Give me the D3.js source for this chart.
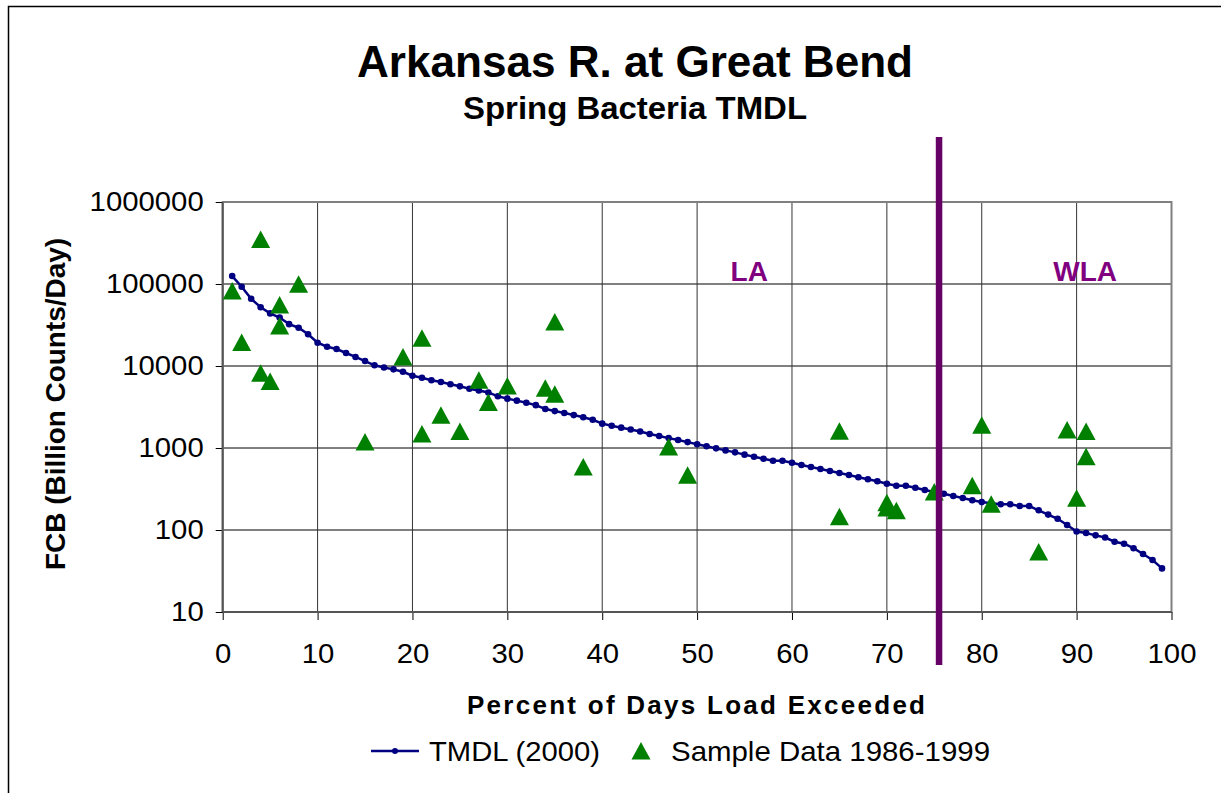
<!DOCTYPE html>
<html>
<head>
<meta charset="utf-8">
<script src="https://cdn.jsdelivr.net/npm/d3@7.9.0/dist/d3.min.js"></script>
<style>
  body { margin: 0; background: #fff; }
  svg { display: block; font-family: "Liberation Sans", Arial, sans-serif; }
</style>
</head>
<body>
<div id="chart"></div>
<script>
// TMDL curve: percent of days load exceeded vs load (billion counts/day)
const percentExceeded = [
  1, 2, 3, 4, 5, 6, 7, 8, 9, 10, 11, 12, 13, 14, 15, 16, 17, 18, 19, 20,
  21, 22, 23, 24, 25, 26, 27, 28, 29, 30, 31, 32, 33, 34, 35, 36, 37, 38, 39, 40,
  41, 42, 43, 44, 45, 46, 47, 48, 49, 50, 51, 52, 53, 54, 55, 56, 57, 58, 59, 60,
  61, 62, 63, 64, 65, 66, 67, 68, 69, 70, 71, 72, 73, 74, 75, 76, 77, 78, 79, 80,
  81, 82, 83, 84, 85, 86, 87, 88, 89, 90, 91, 92, 93, 94, 95, 96, 97, 98, 99
];
const tmdlLoad = [
  125000, 92700, 66000, 52000, 43800, 39000, 32400, 29300, 24400, 19200,
  17200, 16100, 14400, 12900, 11500, 10200, 9600, 9100, 8500, 7600,
  7200, 6700, 6380, 6000, 5650, 5270, 5030, 4760, 4270, 4000,
  3780, 3560, 3330, 2990, 2820, 2670, 2520, 2370, 2210, 1980,
  1870, 1770, 1680, 1590, 1480, 1400, 1320, 1250, 1180, 1110,
  1050, 990, 935, 885, 830, 783, 740, 700, 700, 662,
  620, 587, 555, 525, 496, 468, 440, 416, 393, 367,
  347, 347, 328, 307, 290, 277, 260, 246, 231, 219,
  212, 206, 206, 196, 196, 174, 154, 137, 115, 96,
  92, 86, 81, 72, 68, 60, 51, 43, 34
];

// sample data 1986-1999
const samplePercent = [
  1, 2, 4, 4, 5, 6, 6, 8, 15, 19, 21, 21, 23, 25, 27, 28, 30, 34, 35,
  35, 38, 47, 49, 65, 65, 70, 70, 71, 75, 79, 80, 81, 86, 89, 90, 91, 91
];
const sampleLoad = [
  82000, 19400, 350000, 8150, 6450, 55500, 30800, 99000, 1180, 12900, 21800, 1480, 2500, 1590, 6680, 3600, 5700, 5350, 34400,
  4520, 586, 1030, 465, 1600, 145, 215, 185, 172, 290, 347, 1890, 206, 54, 1660, 244, 1590, 783
];

const xTicks = [0, 10, 20, 30, 40, 50, 60, 70, 80, 90, 100];
const yTicks = [10, 100, 1000, 10000, 100000, 1000000];

const allocationSplit = 75.5;
const zoneLabels = ["LA", "WLA"];
const zoneLabelX = [55.5, 90.9];
const zoneLabelY = 108000;

const width = 1221;
const height = 793;
const plot = { left: 222.7, right: 1171.5, top: 202, bottom: 612 };

const svg = d3.select("#chart")
  .append("svg")
  .attr("width", width)
  .attr("height", height)
  .style("background", "#fff");

// outer chart border (right and bottom fall outside the picture)
svg.append("rect")
  .attr("x", 8.5).attr("y", 6.5)
  .attr("width", 1300).attr("height", 900)
  .attr("fill", "#fff")
  .attr("stroke", "#000")
  .attr("stroke-width", 1.5);

const x = d3.scaleLinear().domain([0, 100]).range([plot.left, plot.right]);
const y = d3.scaleLog().domain([10, 1000000]).range([plot.bottom, plot.top]);

// titles
svg.append("text")
  .attr("x", 635).attr("y", 77)
  .attr("text-anchor", "middle")
  .attr("font-size", 45).attr("font-weight", "bold")
  .attr("textLength", 556).attr("lengthAdjust", "spacingAndGlyphs")
  .text("Arkansas R. at Great Bend");

svg.append("text")
  .attr("x", 635).attr("y", 119)
  .attr("text-anchor", "middle")
  .attr("font-size", 31).attr("font-weight", "bold")
  .attr("textLength", 344).attr("lengthAdjust", "spacingAndGlyphs")
  .text("Spring Bacteria TMDL");

// gridlines
const grid = svg.append("g").attr("class", "grid");
grid.selectAll("line.h")
  .data(yTicks.slice(1, -1))
  .join("line")
  .attr("class", "h")
  .attr("x1", plot.left).attr("x2", plot.right)
  .attr("y1", (d) => y(d)).attr("y2", (d) => y(d))
  .attr("stroke", "#000").attr("stroke-width", 1);

grid.selectAll("line.v")
  .data(xTicks.slice(1, -1))
  .join("line")
  .attr("class", "v")
  .attr("x1", (d) => x(d)).attr("x2", (d) => x(d))
  .attr("y1", plot.top).attr("y2", plot.bottom)
  .attr("stroke", "#333").attr("stroke-width", 1);

// plot frame
svg.append("rect")
  .attr("x", plot.left).attr("y", plot.top)
  .attr("width", plot.right - plot.left)
  .attr("height", plot.bottom - plot.top)
  .attr("fill", "none")
  .attr("stroke", "#808080")
  .attr("stroke-width", 2);

// axes
const yAxis = svg.append("g")
  .attr("transform", `translate(${plot.left},0)`)
  .call(d3.axisLeft(y).tickValues(yTicks).tickFormat(d3.format("d")).tickSize(7).tickPadding(12));
yAxis.select(".domain").remove();
yAxis.selectAll("line").attr("stroke", "#000");
yAxis.selectAll("text")
  .attr("font-size", 27)
  .attr("font-family", "Liberation Sans, Arial, sans-serif")
  .attr("fill", "#000")
  .attr("textLength", (d) => String(d).length * 16.3)
  .attr("lengthAdjust", "spacingAndGlyphs");

const xAxis = svg.append("g")
  .attr("transform", `translate(0,${plot.bottom})`)
  .call(d3.axisBottom(x).tickValues(xTicks).tickSize(8).tickPadding(23));
xAxis.select(".domain").remove();
xAxis.selectAll("line").attr("stroke", "#000");
xAxis.selectAll("text")
  .attr("font-size", 28)
  .attr("font-family", "Liberation Sans, Arial, sans-serif")
  .attr("fill", "#000")
  .attr("textLength", (d) => String(d).length * 16.3)
  .attr("lengthAdjust", "spacingAndGlyphs");

svg.append("line")
  .attr("x1", plot.left).attr("x2", plot.right)
  .attr("y1", plot.bottom).attr("y2", plot.bottom)
  .attr("stroke", "#555").attr("stroke-width", 2);
svg.append("line")
  .attr("x1", plot.left).attr("x2", plot.left)
  .attr("y1", plot.top).attr("y2", plot.bottom)
  .attr("stroke", "#555").attr("stroke-width", 2);

// axis titles
svg.append("text")
  .attr("x", 696).attr("y", 714)
  .attr("text-anchor", "middle")
  .attr("font-size", 26).attr("font-weight", "bold")
  .attr("textLength", 458)
  .text("Percent of Days Load Exceeded");

svg.append("text")
  .attr("transform", "translate(65,404) rotate(-90)")
  .attr("text-anchor", "middle")
  .attr("font-size", 27).attr("font-weight", "bold")
  .attr("textLength", 332).attr("lengthAdjust", "spacingAndGlyphs")
  .text("FCB (Billion Counts/Day)");

// TMDL line
const tmdl = percentExceeded.map((p, i) => ({ p, v: tmdlLoad[i] }));
const line = d3.line().x((d) => x(d.p)).y((d) => y(d.v));

svg.append("path")
  .datum(tmdl)
  .attr("d", line)
  .attr("fill", "none")
  .attr("stroke", "#000080")
  .attr("stroke-width", 2.5);

svg.append("g")
  .selectAll("circle")
  .data(tmdl)
  .join("circle")
  .attr("cx", (d) => x(d.p))
  .attr("cy", (d) => y(d.v))
  .attr("r", 3.3)
  .attr("fill", "#000080");

// sample triangles
const triangle = "M0,-9L9.5,8.5L-9.5,8.5Z";
const samples = samplePercent.map((p, i) => ({ p, v: sampleLoad[i] }));
svg.append("g")
  .selectAll("path")
  .data(samples)
  .join("path")
  .attr("d", triangle)
  .attr("transform", (d) => `translate(${x(d.p)},${y(d.v)})`)
  .attr("fill", "#008000");

// LA / WLA split
svg.append("line")
  .attr("x1", x(allocationSplit)).attr("x2", x(allocationSplit))
  .attr("y1", 137).attr("y2", 665)
  .attr("stroke", "#660066")
  .attr("stroke-width", 6.5);

svg.append("g")
  .selectAll("text")
  .data(zoneLabels)
  .join("text")
  .attr("x", (d, i) => x(zoneLabelX[i]))
  .attr("y", y(zoneLabelY))
  .attr("text-anchor", "middle")
  .attr("font-size", 28).attr("font-weight", "bold")
  .attr("fill", "#800080")
  .text((d) => d);

// legend
const legend = svg.append("g").attr("transform", "translate(0,751)");
legend.append("line")
  .attr("x1", 371).attr("x2", 419)
  .attr("stroke", "#000080").attr("stroke-width", 2.5);
legend.append("circle")
  .attr("cx", 395).attr("r", 3)
  .attr("fill", "#000080");
legend.append("text")
  .attr("x", 429).attr("y", 10)
  .attr("font-size", 28)
  .attr("textLength", 171).attr("lengthAdjust", "spacingAndGlyphs")
  .text("TMDL (2000)");
legend.append("path")
  .attr("d", triangle)
  .attr("transform", "translate(641,0)")
  .attr("fill", "#008000");
legend.append("text")
  .attr("x", 671).attr("y", 10)
  .attr("font-size", 28)
  .attr("textLength", 319).attr("lengthAdjust", "spacingAndGlyphs")
  .text("Sample Data 1986-1999");
</script>
</body>
</html>
